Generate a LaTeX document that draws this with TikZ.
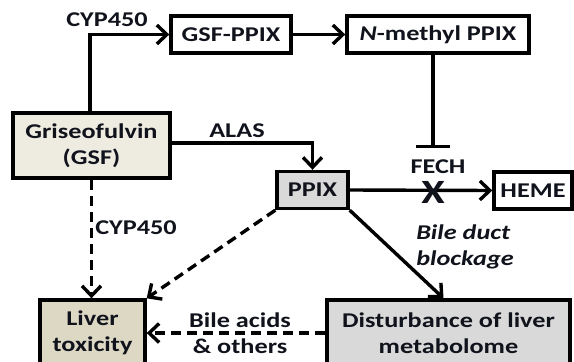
\documentclass[tikz,border=0pt]{standalone}
\usepackage{fontspec}
\setmainfont{Carlito}[FakeStretch=1.25]
\usetikzlibrary{arrows.meta,positioning}

\definecolor{gsfbeige}{HTML}{EEEBE0}
\definecolor{livbeige}{HTML}{DDD8C4}
\definecolor{pixgray}{HTML}{D9D9D9}
\definecolor{ink}{HTML}{10131C}

\tikzset{
  box/.style={draw, line width=3.4pt, inner sep=0pt, align=center, text=ink,
    font=\fontsize{21}{26}\selectfont\bfseries},
  lbl/.style={align=center, text=ink, font=\fontsize{21}{26}\selectfont\bfseries},
  arr/.style={line width=3.4pt, -{Straight Barb[length=10pt,width=19pt]}},
  dasharr/.style={arr, dash pattern=on 10pt off 6pt},
}

\begin{document}
\begin{tikzpicture}[x=1pt,y=-1pt]
\clip (0,0) rectangle (574,362);
\useasboundingbox (0,0) rectangle (574,362);

% boxes
\node[box, minimum width=120pt, minimum height=37pt] (gsfppix) at (231,34.5) {GSF-PPIX};
\node[box, minimum width=182pt, minimum height=37pt] (nmppix) at (438,34.5) {\textit{N}-methyl PPIX};
\node[box, fill=gsfbeige, minimum width=157pt, minimum height=65pt] (gsf) at (91.5,145.5) {Griseofulvin\\(GSF)};
\node[box, fill=pixgray, minimum width=71pt, minimum height=37pt] (ppix) at (312.5,190) {PPIX};
\node[box, minimum width=78pt, minimum height=37pt] (heme) at (533,190.5) {HEME};
\node[box, fill=livbeige, minimum width=105pt, minimum height=66pt] (liver) at (92.5,333) {Liver\\toxicity};
\node[box, fill=pixgray, minimum width=243pt, minimum height=66pt] (dist) at (448.5,333) {Disturbance of liver\\metabolome};

% GSF -> GSF-PPIX -> N-methyl PPIX
\draw[arr] ([xshift=-1.5pt]gsf.north) |- (gsfppix.west);
\node[lbl] (cyptop) at (107,20) {CYP450};
\draw[arr] (gsfppix.east) -- (nmppix.west);

% inhibition of FECH
\coordinate (fechbar) at (433,148);
\draw[line width=3.4pt, -{Bar[width=34pt]}] (nmppix.south -| fechbar) -- (fechbar);
\node[lbl] (fech) at (438,167) {FECH};

% ALAS route and heme synthesis
\draw[arr] (gsf.east |- 0,143) -| (ppix.north);
\node[lbl] (alas) at (237,131) {ALAS};
\draw[arr] (ppix.east) -- (heme.west);
\node[font=\fontsize{34}{34}\selectfont\bfseries, text=ink, inner sep=0pt] (block) at (433,192) {X};

% PPIX -> metabolome
\draw[arr] (ppix.south east) -- ([xshift=-5pt]dist.north);
\node[lbl, align=left, font=\fontsize{21}{26}\selectfont\bfseries\itshape] (bile) at (465,247) {Bile duct\\blockage};

% routes to liver toxicity
\draw[dasharr] (gsf.south) -- (gsf.south |- liver.north);
\node[lbl] (cypbot) at (136,228) {CYP450};
\draw[dasharr] (ppix.south west) -- (liver.north east);
\draw[dasharr] (dist.west) -- (liver.east);
\node[lbl] (acids) at (240,333) {Bile acids\\\& others};
\end{tikzpicture}
\end{document}
